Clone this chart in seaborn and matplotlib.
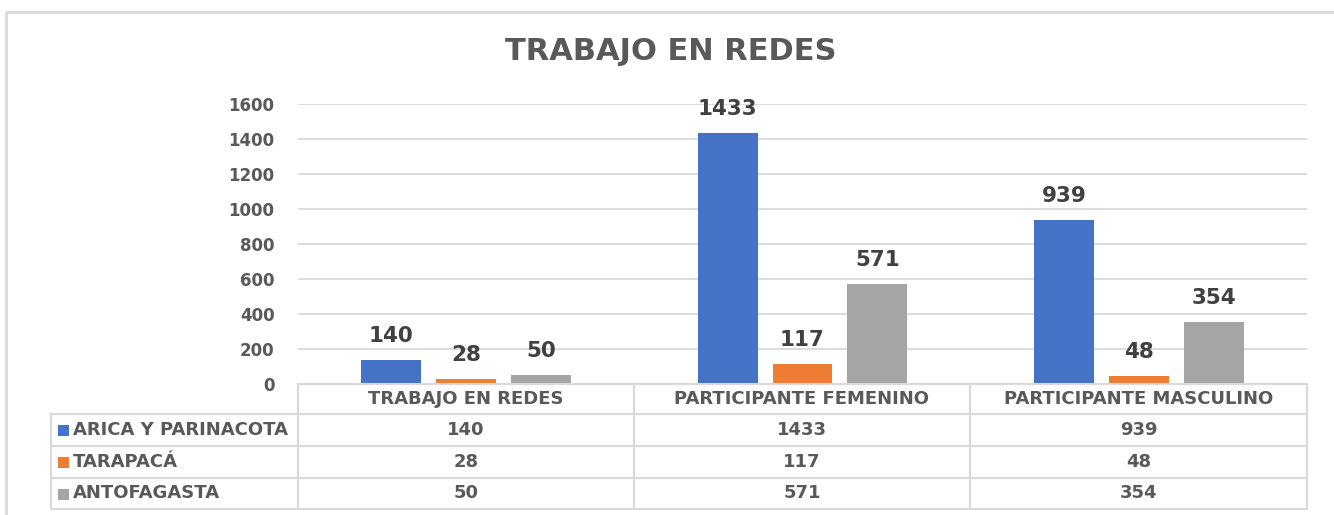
import matplotlib
matplotlib.use("Agg")
import matplotlib.pyplot as plt
import seaborn as sns
import pandas as pd
from matplotlib.lines import Line2D
from matplotlib.patches import Rectangle

categories = ["TRABAJO EN REDES", "PARTICIPANTE FEMENINO", "PARTICIPANTE MASCULINO"]
series = ["ARICA Y PARINACOTA", "TARAPACÁ", "ANTOFAGASTA"]
arica = [140, 1433, 939]
tarapaca = [28, 117, 48]
antofagasta = [50, 571, 354]
colors = ["#4472C4", "#ED7D31", "#A5A5A5"]
title = "TRABAJO EN REDES"
yticks = [0, 200, 400, 600, 800, 1000, 1200, 1400, 1600]

values = [arica, tarapaca, antofagasta]
rows = []
for s, vals in zip(series, values):
    for c, v in zip(categories, vals):
        rows.append({"cat": c, "serie": s, "val": v})
df = pd.DataFrame(rows)

sns.set_style("white")
plt.rcParams["font.family"] = ["DejaVu Sans"]

W, H = 1334, 515
fig = plt.figure(figsize=(W / 100, H / 100), dpi=100)

def fx(px):
    return px / W

def fy(py):
    return 1 - py / H

ax = fig.add_axes([fx(298), fy(384), fx(1307) - fx(298), fy(104) - fy(384)])
sns.barplot(data=df, x="cat", y="val", hue="serie", order=categories,
            hue_order=series, palette=colors, width=0.667, gap=0.2,
            saturation=1, linewidth=0, ax=ax, legend=False)
ax.set_xlim(-0.5, 2.5)
ax.set_ylim(0, 1600)
ax.set_yticks(yticks)
ax.set_yticklabels([str(t) for t in yticks], fontsize=12, fontweight="bold", color="#595959")
ax.tick_params(axis="y", length=0, pad=17)
ax.set_xticks([])
ax.set_xlabel("")
ax.set_ylabel("")
ax.grid(axis="y", color="#D9D9D9", linewidth=1.3)
ax.set_axisbelow(True)
for sp in ax.spines.values():
    sp.set_visible(False)

for cont in ax.containers:
    ax.bar_label(cont, labels=[f"{int(v)}" for v in cont.datavalues], padding=10,
                 fontsize=15.5, fontweight="bold", color="#404040")

lc = "#D9D9D9"
def hline(y, x0, x1, lw=1.5):
    fig.add_artist(Line2D([fx(x0), fx(x1)], [fy(y), fy(y)], color=lc, lw=lw,
                          transform=fig.transFigure))
def vline(x, y0, y1, lw=1.5):
    fig.add_artist(Line2D([fx(x), fx(x)], [fy(y0), fy(y1)], color=lc, lw=lw,
                          transform=fig.transFigure))

# outer frame (left and top edges visible)
hline(12, 6, 1334, lw=2)
vline(6, 12, 515, lw=2)

fig.text(fx(671), fy(52), title, ha="center", va="center", fontsize=22,
         fontweight="bold", color="#595959")

# data table
row_y = [384, 414, 446, 478, 509]
hline(384, 298, 1307)
for y in row_y[1:]:
    hline(y, 51, 1307)
vline(51, 414, 509)
col_x = [298, 634, 970, 1307]
for x in col_x:
    vline(x, 384, 509)

for i, c in enumerate(categories):
    cx = (col_x[i] + col_x[i + 1]) / 2
    fig.text(fx(cx), fy((row_y[0] + row_y[1]) / 2 + 0.5), c, ha="center", va="center",
             fontsize=13, fontweight="bold", color="#595959")

for r, (s, vals, col) in enumerate(zip(series, values, colors)):
    yc = (row_y[r + 1] + row_y[r + 2]) / 2
    fig.patches.append(Rectangle((fx(58), fy(yc + 6)), fx(11), fy(yc - 5) - fy(yc + 6),
                                 transform=fig.transFigure, facecolor=col, edgecolor="none"))
    fig.text(fx(73), fy(yc), s, ha="left", va="center", fontsize=13,
             fontweight="bold", color="#595959")
    for i, v in enumerate(vals):
        cx = (col_x[i] + col_x[i + 1]) / 2
        fig.text(fx(cx), fy(yc), str(v), ha="center", va="center", fontsize=13,
                 fontweight="bold", color="#595959")

fig.savefig("out.png", dpi=100, facecolor="white")
